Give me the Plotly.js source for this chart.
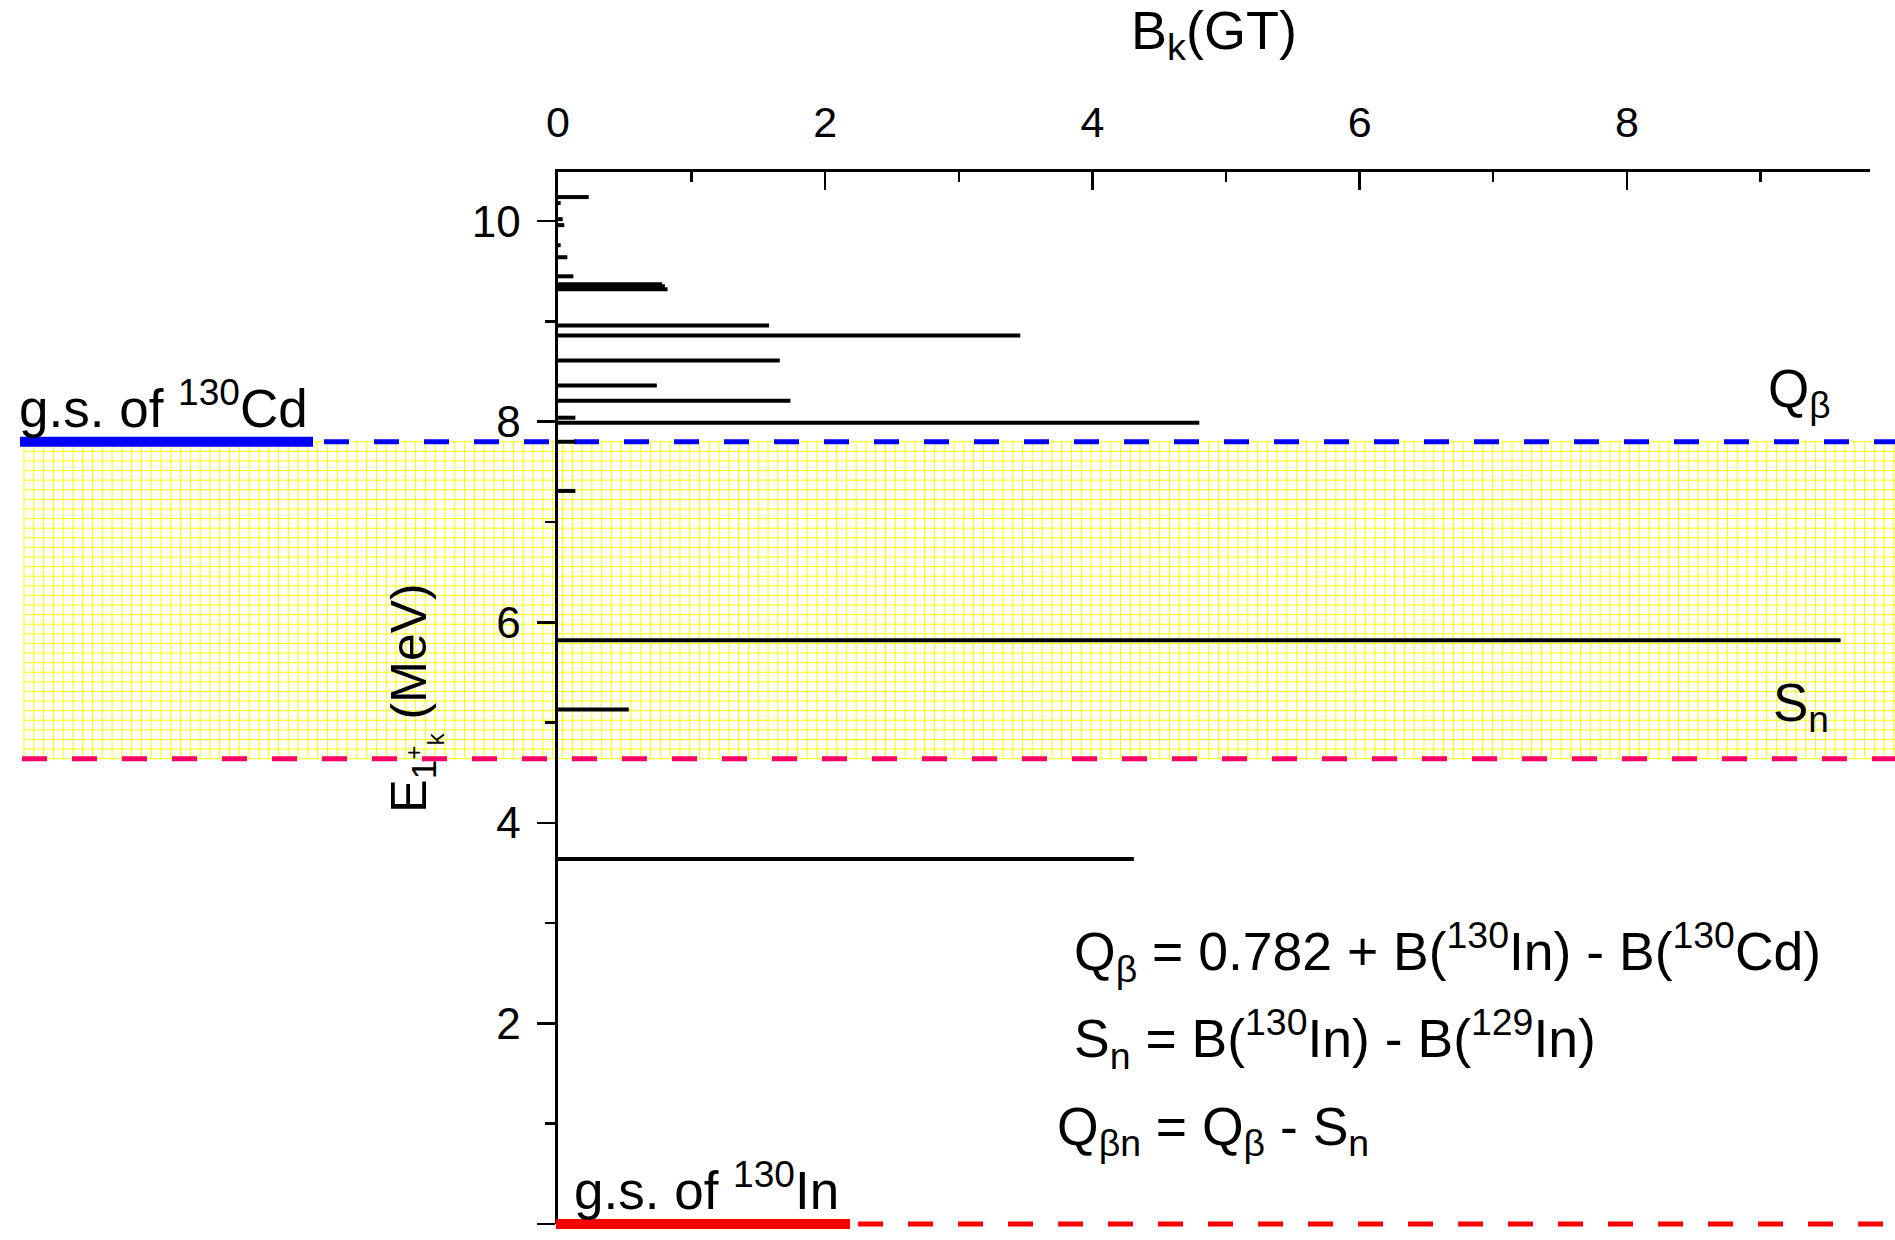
<!DOCTYPE html>
<html>
<head>
<meta charset="utf-8">
<script src="https://cdn.plot.ly/plotly-3.0.1.min.js"></script>
<style>
  html, body { margin: 0; padding: 0; background: #ffffff; }
  #chart { width: 1895px; height: 1240px; }
</style>
</head>
<body>
<div id="chart"></div>
<script>
// ---- data ----
// GT transition levels: excitation energy E (MeV) and strength B_k(GT)
const levelEnergy = [10.24, 10.18, 10.02, 9.96, 9.76, 9.64, 9.45, 9.37, 9.35, 9.32,
                     8.96, 8.86, 8.61, 8.36, 8.21, 8.04, 7.99, 7.80, 7.31, 5.82, 5.13, 3.64];
const levelBGT    = [0.23, 0.02, 0.035, 0.047, 0.02, 0.07, 0.115, 0.78, 0.80, 0.82,
                     1.58, 3.46, 1.66, 0.74, 1.74, 0.13, 4.80, 0.13, 0.13, 9.60, 0.53, 4.31];
// thresholds (MeV)
const Q_BETA = 7.80;   // g.s. of 130Cd
const S_N = 4.64;      // neutron separation energy
const GS_IN = 0;       // g.s. of 130In
// axis ranges / ticks
const xRange = [0, 9.82];
const yRange = [0, 10.49];
const xTickVals = [0, 2, 4, 6, 8];
const yTickVals = [0, 2, 4, 6, 8, 10];

// ---- build traces ----
const bx = [], by = [];
for (let i = 0; i < levelEnergy.length; i++) {
  bx.push(0, levelBGT[i], null);
  by.push(levelEnergy[i], levelEnergy[i], null);
}
const bars = {
  type: 'scatter', mode: 'lines', x: bx, y: by,
  line: { color: '#000000', width: 4 },
  hoverinfo: 'skip', showlegend: false
};

// ---- layout geometry ----
const W = 1895, H = 1240;
const M = { l: 558, r: 25, t: 172, b: 16 };
const plotW = W - M.l - M.r;
const pxToPaperX = px => (px - M.l) / plotW;
const yPaper = v => (v - yRange[0]) / (yRange[1] - yRange[0]);

// yellow grid band between S_n and Q_beta
const gxL = pxToPaperX(24), gxR = pxToPaperX(W);
const cellW = 9.79 / plotW;
const nRows = 33;
const gy0 = yPaper(S_N), gy1 = yPaper(Q_BETA);
let gp = '';
for (let x = gxL; x <= gxR + 1e-9; x += cellW) {
  gp += 'M' + x.toFixed(5) + ',' + gy0.toFixed(5) + 'L' + x.toFixed(5) + ',' + gy1.toFixed(5);
}
for (let j = 0; j <= nRows; j++) {
  const y = gy0 + j * (gy1 - gy0) / nRows;
  gp += 'M' + gxL.toFixed(5) + ',' + y.toFixed(5) + 'L' + gxR.toFixed(5) + ',' + y.toFixed(5);
}

const shapes = [
  { type: 'path', xref: 'paper', yref: 'paper', layer: 'below', path: gp,
    line: { color: '#ffff00', width: 1 } },
  // S_n dashed
  { type: 'line', xref: 'paper', yref: 'paper', layer: 'below',
    x0: pxToPaperX(22), x1: pxToPaperX(W), y0: yPaper(S_N), y1: yPaper(S_N),
    line: { color: '#ff0066', width: 5, dash: '25px,25px' } },
  // Q_beta: solid blue level, then dashed
  { type: 'line', xref: 'paper', yref: 'paper', layer: 'below',
    x0: pxToPaperX(20), x1: pxToPaperX(313), y0: yPaper(Q_BETA), y1: yPaper(Q_BETA),
    line: { color: '#0000ff', width: 10 } },
  { type: 'line', xref: 'paper', yref: 'paper', layer: 'below',
    x0: pxToPaperX(324), x1: pxToPaperX(W), y0: yPaper(Q_BETA), y1: yPaper(Q_BETA),
    line: { color: '#0000ff', width: 5, dash: '25px,25px' } },
  // g.s. of 130In: solid red, then dashed
  { type: 'line', xref: 'paper', yref: 'paper', layer: 'above',
    x0: pxToPaperX(556), x1: pxToPaperX(850), y0: yPaper(GS_IN), y1: yPaper(GS_IN),
    line: { color: '#ff0000', width: 10 } },
  { type: 'line', xref: 'paper', yref: 'paper', layer: 'above',
    x0: pxToPaperX(858), x1: pxToPaperX(W), y0: yPaper(GS_IN), y1: yPaper(GS_IN),
    line: { color: '#ff0000', width: 5, dash: '25px,25px' } }
];

const FONT = 'Liberation Sans, Arial, sans-serif';
const pyToPaper = py => (H - M.b - py) / (H - M.t - M.b);
const ann = (text, xpx, ypxBottom, size) => ({
  text: text, xref: 'paper', yref: 'paper', x: pxToPaperX(xpx), y: pyToPaper(ypxBottom),
  xanchor: 'left', yanchor: 'bottom', showarrow: false,
  font: { family: FONT, size: size || 53, color: '#000000' }
});

const annotations = [
  ann('g.s. of <sup>130</sup>Cd', 17, 440),
  ann('g.s. of <sup>130</sup>In', 572, 1222),
  ann('Q<sub>β</sub>', 1766, 428),
  ann('S<sub>n</sub>', 1771, 742),
  ann('Q<sub>β</sub> = 0.782 + B(<sup>130</sup>In) - B(<sup>130</sup>Cd)', 1072, 992, 53.5),
  ann('S<sub>n</sub> = B(<sup>130</sup>In) - B(<sup>129</sup>In)', 1072, 1079, 53.5),
  ann('Q<sub>βn</sub> = Q<sub>β</sub> - S<sub>n</sub>', 1055, 1166, 53.5)
];

const layout = {
  width: W, height: H,
  margin: M,
  paper_bgcolor: '#ffffff', plot_bgcolor: 'rgba(0,0,0,0)',
  font: { family: FONT, color: '#000000' },
  showlegend: false,
  xaxis: {
    side: 'top', range: xRange, tickvals: xTickVals,
    showline: true, linecolor: '#000000', linewidth: 3.5, mirror: false,
    ticks: 'inside', ticklen: 18, tickwidth: 2.5, tickcolor: '#000000',
    minor: { dtick: 1, tick0: 0, ticks: 'inside', ticklen: 10, tickwidth: 2.5, tickcolor: '#000000', showgrid: false },
    showgrid: false, zeroline: false,
    tickfont: { family: FONT, size: 43, color: '#000000' },
    ticklabelstandoff: 14,
    title: { text: 'B<sub>k</sub>(GT)', font: { family: FONT, size: 54, color: '#000000' }, standoff: 38 }
  },
  yaxis: {
    range: yRange, tickvals: yTickVals,
    showline: true, linecolor: '#000000', linewidth: 3.5, mirror: false,
    ticks: 'outside', ticklen: 18, tickwidth: 2.5, tickcolor: '#000000',
    minor: { dtick: 1, tick0: 0, ticks: 'outside', ticklen: 10, tickwidth: 2.5, tickcolor: '#000000', showgrid: false },
    showgrid: false, zeroline: false,
    tickfont: { family: FONT, size: 44, color: '#000000' },
    ticklabelstandoff: 7,
    title: { text: 'E<sub>1<sup>+</sup><sub>k</sub></sub> (MeV)', font: { family: FONT, size: 50, color: '#000000' }, standoff: 30 }
  },
  shapes: shapes,
  annotations: annotations
};

Plotly.newPlot('chart', [bars], layout, { displayModeBar: false, staticPlot: true });
</script>
</body>
</html>
